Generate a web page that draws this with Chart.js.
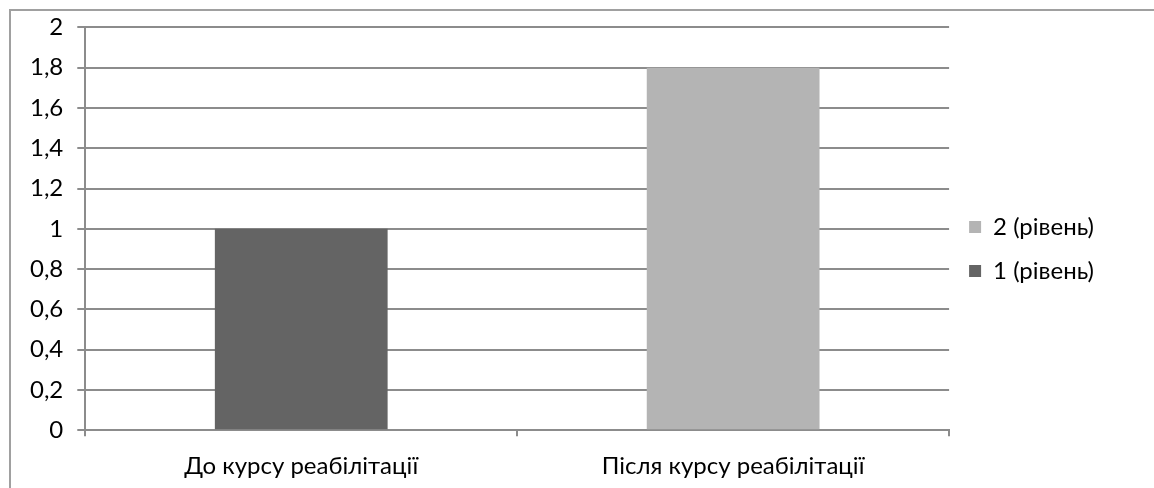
<!DOCTYPE html>
<html>
<head>
<meta charset="utf-8">
<script src="https://cdn.jsdelivr.net/npm/chart.js@4"></script>
<style>
  html, body { margin: 0; padding: 0; background: #fff; }
  #frame {
    position: absolute; left: 9px; top: 9px; width: 1145px; height: 479px;
    border-top: 2px solid #a0a0a0; border-left: 2px solid #a0a0a0;
    overflow: hidden;
  }
  #wrap { position: absolute; left: 0; top: -12px; width: 1143px; height: 498px; }
</style>
</head>
<body>
<div id="frame"><div id="wrap"><canvas id="chart"></canvas></div></div>
<script>
const categories = ['До курсу реабілітації', 'Після курсу реабілітації'];
const level1 = [1, 0];
const level2 = [0, 1.8];
const seriesNames = ['1 (рівень)', '2 (рівень)'];

const fontFamily = 'Lato, "Open Sans", sans-serif';
const ctx = document.getElementById('chart').getContext('2d');
new Chart(ctx, {
  type: 'bar',
  data: {
    labels: categories,
    datasets: [
      { label: seriesNames[0], data: level1, backgroundColor: '#646464', barPercentage: 0.4, categoryPercentage: 1 },
      { label: seriesNames[1], data: level2, backgroundColor: '#b4b4b4', barPercentage: 0.4, categoryPercentage: 1 }
    ]
  },
  options: {
    responsive: true,
    maintainAspectRatio: false,
    animation: false,
    layout: { padding: { top: 2, right: 50, bottom: 0, left: 5 } },
    plugins: {
      legend: {
        position: 'right',
        reverse: true,
        labels: {
          boxWidth: 12, boxHeight: 12, padding: 20,
          color: '#000',
          font: { family: fontFamily, size: 24 }
        }
      },
      tooltip: { enabled: false }
    },
    scales: {
      x: {
        stacked: true,
        grid: { display: true, drawOnChartArea: false, color: '#8c8c8c', lineWidth: 2, tickLength: 6 },
        border: { color: '#8c8c8c', width: 2 },
        ticks: { color: '#000', padding: 16, font: { family: fontFamily, size: 24 } }
      },
      y: {
        stacked: true,
        min: 0, max: 2,
        grid: { color: '#8c8c8c', lineWidth: 2, tickLength: 8 },
        border: { color: '#8c8c8c', width: 2 },
        ticks: {
          stepSize: 0.2, color: '#000', padding: 14,
          font: { family: fontFamily, size: 24 },
          callback: v => String(Math.round(v * 10) / 10).replace('.', ',')
        }
      }
    }
  }
});
</script>
</body>
</html>
